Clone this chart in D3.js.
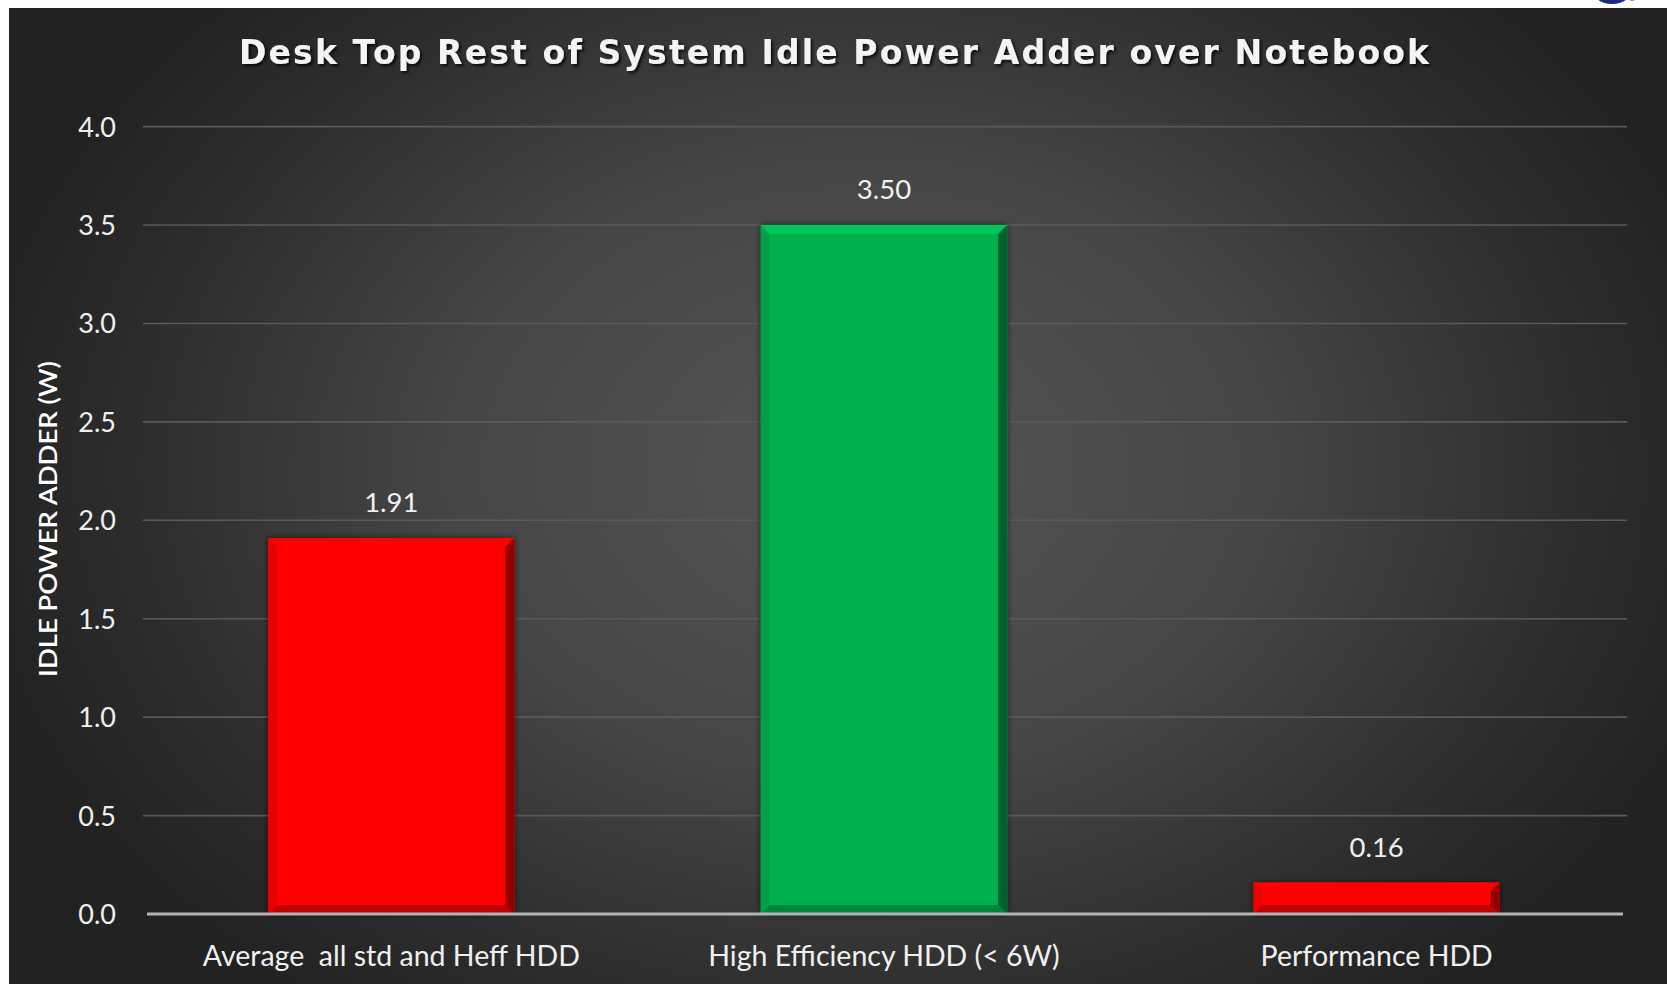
<!DOCTYPE html>
<html>
<head>
<meta charset="utf-8">
<script src="https://cdn.jsdelivr.net/npm/d3@7"></script>
<style>
  html, body { margin: 0; padding: 0; background: #ffffff; }
  svg { display: block; }
  text { white-space: pre; }
</style>
</head>
<body>
<svg id="chart" width="1667" height="984"></svg>
<script>
// ---- data ----
const title = "Desk Top Rest of System Idle Power Adder over Notebook";
const yAxisTitle = "IDLE POWER ADDER (W)";
const categories = ["Average  all std and Heff HDD", "High Efficiency HDD (< 6W)", "Performance HDD"];
const values = [1.91, 3.50, 0.16];
const valueLabels = ["1.91", "3.50", "0.16"];
const barColors = ["#ff0000", "#00b050", "#ff0000"];
const yTicks = [0.0, 0.5, 1.0, 1.5, 2.0, 2.5, 3.0, 3.5, 4.0];

// ---- layout ----
const W = 1667, H = 984;
const svg = d3.select("#chart");
const defs = svg.append("defs");

// background radial gradient
const bg = defs.append("radialGradient").attr("id", "bgGrad")
  .attr("gradientUnits", "userSpaceOnUse")
  .attr("cx", 860).attr("cy", 470).attr("r", 900)
  .attr("gradientTransform", "translate(860,470) scale(1,0.75) translate(-860,-470)");
bg.append("stop").attr("offset", "0%").attr("stop-color", "#555555");
bg.append("stop").attr("offset", "45%").attr("stop-color", "#464646");
bg.append("stop").attr("offset", "80%").attr("stop-color", "#2d2d2d");
bg.append("stop").attr("offset", "100%").attr("stop-color", "#222222");

const shadow = defs.append("filter").attr("id", "barShadow")
  .attr("x", "-10%").attr("y", "-10%").attr("width", "120%").attr("height", "120%");
shadow.append("feDropShadow").attr("dx", 0).attr("dy", 0).attr("stdDeviation", 3)
  .attr("flood-color", "#000").attr("flood-opacity", 0.6);

const txtShadow = defs.append("filter").attr("id", "txtShadow")
  .attr("x", "-5%").attr("y", "-30%").attr("width", "110%").attr("height", "160%");
txtShadow.append("feDropShadow").attr("dx", 2).attr("dy", 2).attr("stdDeviation", 1.5)
  .attr("flood-color", "#000").attr("flood-opacity", 0.8);

// white frame + dark panel
svg.append("rect").attr("x", 0).attr("y", 0).attr("width", W).attr("height", H).attr("fill", "#ffffff");
svg.append("rect").attr("x", 9).attr("y", 8).attr("width", W - 9).attr("height", H - 8).attr("fill", "url(#bgGrad)");

// partial logo at top right (in white band)
const clip = defs.append("clipPath").attr("id", "logoClip");
clip.append("rect").attr("x", 1570).attr("y", 0).attr("width", 97).attr("height", 7);
svg.append("ellipse").attr("clip-path", "url(#logoClip)")
  .attr("cx", 1612).attr("cy", -14).attr("rx", 22).attr("ry", 18)
  .attr("fill", "#1c2a80");
svg.append("path").attr("clip-path", "url(#logoClip)")
  .attr("d", "M1628,-2 Q1634,2 1637,-4").attr("stroke", "#1c2a80").attr("stroke-width", 2).attr("fill", "none");

// scales
const x = d3.scaleBand().domain(categories).range([145, 1623]).paddingInner(0.5).paddingOuter(0.25);
const y = d3.scaleLinear().domain([0, 4]).range([914, 126.6]);

// gridlines
svg.append("g").selectAll("line").data(yTicks.filter(d => d > 0)).join("line")
  .attr("x1", 143).attr("x2", 1627)
  .attr("y1", d => y(d)).attr("y2", d => y(d))
  .attr("stroke", "#5a5a5a").attr("stroke-width", 1.6);

// y axis via d3.axisLeft
const yAxis = d3.axisLeft(y).tickValues(yTicks).tickFormat(d3.format(".1f")).tickSize(0).tickPadding(0);
const yg = svg.append("g").attr("transform", "translate(116,0)").call(yAxis);
yg.select(".domain").remove();
yg.selectAll("text")
  .attr("fill", "#f0f0f0")
  .attr("font-family", "Lato, 'Open Sans', sans-serif")
  .attr("font-size", 27)
  .attr("dy", "0.35em");

// y axis title
svg.append("text")
  .attr("transform", "translate(57,519) rotate(-90)")
  .attr("text-anchor", "middle")
  .attr("fill", "#ffffff")
  .attr("font-family", "Lato, 'Open Sans', sans-serif")
  .attr("font-weight", 600)
  .attr("font-size", 25)
  .attr("textLength", 316).attr("lengthAdjust", "spacingAndGlyphs")
  .text(yAxisTitle);

// bars
const bars = svg.append("g").selectAll("g.bar").data(values).join("g").attr("class", "bar");
const bev = 9;
bars.each(function(v, i) {
  const g = d3.select(this);
  const x0 = x(categories[i]), x1 = x0 + x.bandwidth();
  const y0 = y(v), y1 = y(0);
  const col = d3.color(barColors[i]);
  const b = Math.min(bev, (y1 - y0) / 2.5);
  g.append("rect").attr("x", x0).attr("y", y0).attr("width", x1 - x0).attr("height", y1 - y0)
    .attr("fill", col).attr("filter", "url(#barShadow)");
  // top bevel
  g.append("path").attr("d", `M${x0},${y0}L${x1},${y0}L${x1 - b},${y0 + b}L${x0 + b},${y0 + b}Z`)
    .attr("fill", col.brighter(0.35));
  // bottom bevel
  g.append("path").attr("d", `M${x0},${y1}L${x1},${y1}L${x1 - b},${y1 - b}L${x0 + b},${y1 - b}Z`)
    .attr("fill", col.darker(0.8));
  // left bevel
  g.append("path").attr("d", `M${x0},${y0}L${x0 + b},${y0 + b}L${x0 + b},${y1 - b}L${x0},${y1}Z`)
    .attr("fill", col.darker(0.25));
  // right bevel
  g.append("path").attr("d", `M${x1},${y0}L${x1 - b},${y0 + b}L${x1 - b},${y1 - b}L${x1},${y1}Z`)
    .attr("fill", col.darker(1.6));
});

// baseline
svg.append("line").attr("x1", 147).attr("x2", 1623)
  .attr("y1", y(0)).attr("y2", y(0))
  .attr("stroke", "#b4b4b4").attr("stroke-width", 3);

// value labels
svg.append("g").selectAll("text").data(values).join("text")
  .attr("x", (d, i) => x(categories[i]) + x.bandwidth() / 2)
  .attr("y", d => y(d) - 26)
  .attr("text-anchor", "middle")
  .attr("fill", "#f0f0f0")
  .attr("font-family", "Lato, 'Open Sans', sans-serif")
  .attr("font-size", 27.5)
  .text((d, i) => valueLabels[i]);

// category labels via d3.axisBottom
const xAxis = d3.axisBottom(x).tickSize(0).tickPadding(0);
const xg = svg.append("g").attr("transform", `translate(0,${y(0)})`).call(xAxis);
xg.select(".domain").remove();
xg.selectAll("text")
  .attr("fill", "#f0f0f0")
  .attr("font-family", "Lato, 'Open Sans', sans-serif")
  .attr("font-size", 28.5)
  .attr("dy", 0)
  .attr("y", 52);

// title
svg.append("text")
  .attr("x", 834).attr("y", 64)
  .attr("text-anchor", "middle")
  .attr("fill", "#f4f4f4")
  .attr("font-family", "'DejaVu Sans', Verdana, sans-serif")
  .attr("font-weight", "bold")
  .attr("font-size", 33)
  .attr("textLength", 1190).attr("lengthAdjust", "spacing")
  .attr("filter", "url(#txtShadow)")
  .text(title);
</script>
</body>
</html>
